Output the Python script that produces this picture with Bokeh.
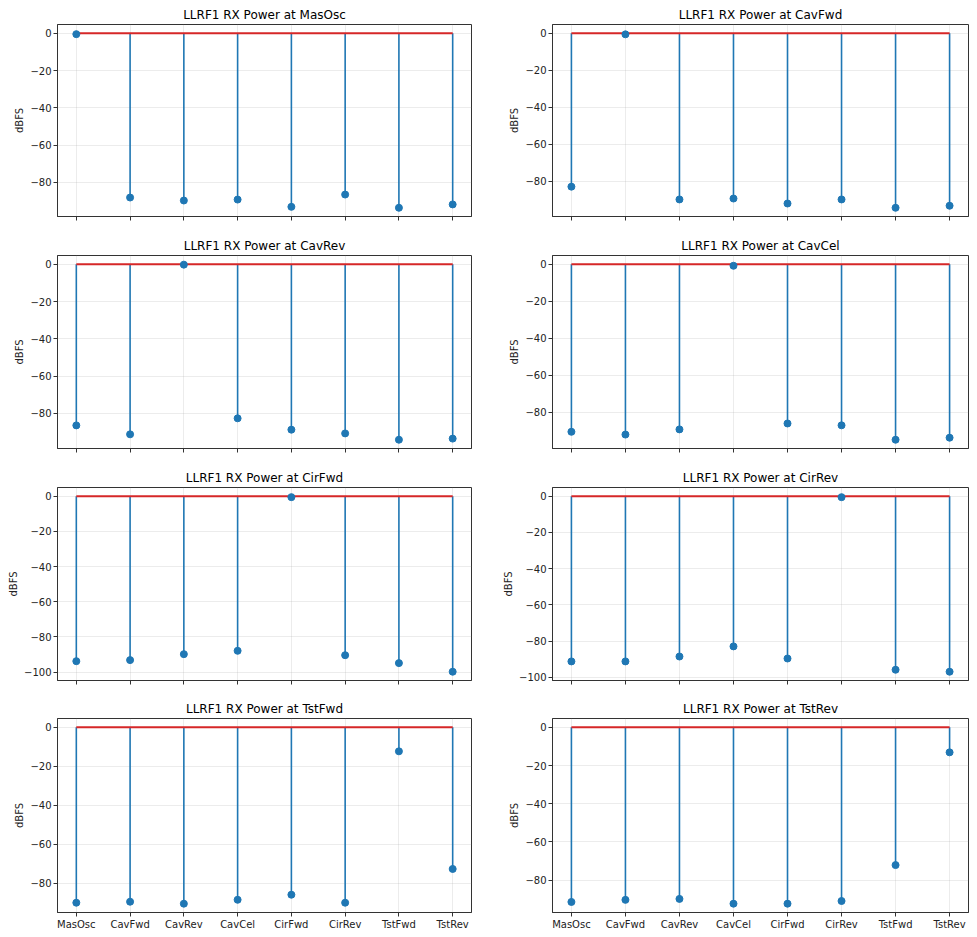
from bokeh.plotting import figure
from bokeh.layouts import column, row
from bokeh.models import FixedTicker, Range1d
from bokeh.embed import file_html
from bokeh.resources import INLINE

channels = ["MasOsc", "CavFwd", "CavRev", "CavCel", "CirFwd", "CirRev", "TstFwd", "TstRev"]

at_masosc = [-0.5, -88.1, -89.7, -89.2, -93.1, -86.5, -93.6, -91.8]
at_cavfwd = [-82.9, -0.6, -89.8, -89.3, -92.0, -89.8, -94.3, -93.2]
at_cavrev = [-86.5, -91.3, -0.2, -82.7, -88.8, -90.8, -94.2, -93.6]
at_cavcel = [-90.7, -92.2, -89.4, -0.8, -86.2, -87.2, -95.0, -93.9]
at_cirfwd = [-93.8, -93.2, -89.8, -87.9, -0.5, -90.4, -94.9, -99.8]
at_cirrev = [-91.2, -91.2, -88.5, -82.9, -89.6, -0.5, -95.8, -96.9]
at_tstfwd = [-89.9, -89.4, -90.4, -88.4, -85.8, -89.9, -12.3, -72.6]
at_tstrev = [-91.4, -90.3, -89.8, -92.3, -92.3, -90.9, -72.1, -13.1]

panels = [
    ("MasOsc", at_masosc), ("CavFwd", at_cavfwd),
    ("CavRev", at_cavrev), ("CavCel", at_cavcel),
    ("CirFwd", at_cirfwd), ("CirRev", at_cirrev),
    ("TstFwd", at_tstfwd), ("TstRev", at_tstrev),
]

y_ticks = [0, -20, -40, -60, -80, -100]
FONT = "DejaVu Sans"
BLUE = "#1f77b4"
RED = "#d62728"

row_specs = [  # (height, top, bottom)
    (230, 24, 14),
    (230, 25, 12),
    (230, 27, 10),
    (247, 28, 25),
]
col_specs = [  # (width, left, right)
    (488, 57, 17),
    (489, 64, 9),
]


def make_panel(name, vals, r, c):
    h, bt, bb = row_specs[r]
    w, bl, br = col_specs[c]
    xs = list(range(len(channels)))
    n = len(xs) - 1
    ymin = min(min(vals), 0.0)
    ymax = max(max(vals), 0.0)
    span = ymax - ymin
    p = figure(width=w, height=h, output_backend="svg", toolbar_location=None,
               x_range=Range1d(-0.05 * n, n + 0.05 * n),
               y_range=Range1d(ymin - 0.05 * span, ymax + 0.05 * span),
               min_border_left=bl, min_border_right=br,
               min_border_top=bt, min_border_bottom=bb,
               title="LLRF1 RX Power at " + name)
    p.title.align = "center"
    p.title.text_font = FONT
    p.title.text_font_size = "12px"
    p.title.text_font_style = "normal"
    p.title.text_color = "#000000"
    p.title.standoff = 6
    p.outline_line_color = "#333333"
    p.outline_line_width = 1
    p.background_fill_color = "white"
    p.border_fill_color = "white"

    p.grid.grid_line_color = "#b0b0b0"
    p.grid.grid_line_alpha = 0.3
    p.grid.grid_line_width = 0.8

    p.xaxis.ticker = FixedTicker(ticks=xs)
    p.xgrid.ticker = FixedTicker(ticks=xs)
    if r == 3:
        p.xaxis.major_label_overrides = {i: channels[i] for i in xs}
    else:
        p.xaxis.major_label_overrides = {i: "" for i in xs}
    p.yaxis.ticker = FixedTicker(ticks=y_ticks)
    p.ygrid.ticker = FixedTicker(ticks=y_ticks)
    p.yaxis.major_label_overrides = {t: ("\u2212" + str(-t) if t < 0 else str(t)) for t in y_ticks}

    for ax in (p.xaxis[0], p.yaxis[0]):
        ax.axis_line_color = "#333333"
        ax.major_tick_line_color = "#333333"
        ax.major_tick_in = 0
        ax.major_tick_out = 4
        ax.minor_tick_line_color = None
        ax.major_label_text_font = FONT
        ax.major_label_text_font_size = "10px"
        ax.major_label_text_color = "#222222"
        ax.major_label_standoff = 2

    p.yaxis.axis_label = "dBFS"
    p.yaxis.axis_label_text_font = FONT
    p.yaxis.axis_label_text_font_size = "10px"
    p.yaxis.axis_label_text_font_style = "normal"
    p.yaxis.axis_label_text_color = "#222222"
    p.yaxis.axis_label_standoff = 2

    if r < 3:
        p.xaxis.major_label_standoff = 0

    p.segment(x0=xs, y0=[0] * len(xs), x1=xs, y1=vals, line_color=BLUE, line_width=1.6)
    p.line(x=[xs[0], xs[-1]], y=[0, 0], line_color=RED, line_width=2)
    p.scatter(x=xs, y=vals, size=7, fill_color=BLUE, line_color=BLUE)
    return p


figs = []
for i, (name, vals) in enumerate(panels):
    figs.append(make_panel(name, vals, i // 2, i % 2))

layout = column(*[row(figs[2 * r], figs[2 * r + 1]) for r in range(4)])
open("out.html", "w").write(file_html(layout, INLINE))
